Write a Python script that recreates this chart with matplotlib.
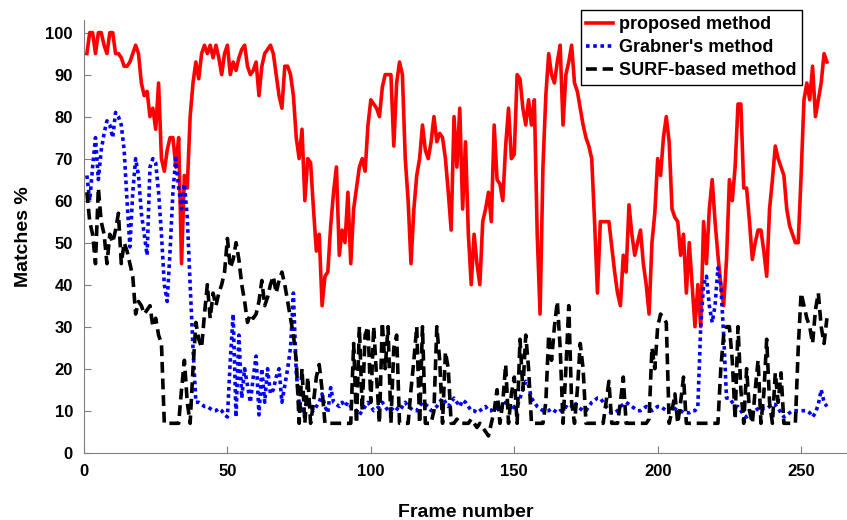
import numpy as np
import matplotlib
matplotlib.use("Agg")
import matplotlib.pyplot as plt

plt.rcParams['font.family'] = ['Liberation Sans Narrow', 'Liberation Sans', 'DejaVu Sans']
plt.rcParams['font.weight'] = 'bold'

# frame numbers
frames = np.arange(1, 260)

# proposed method
proposed = [
    95, 100, 100, 95, 100, 100, 97, 95, 100, 100, 95, 95, 94, 92, 92, 93, 95, 97, 95, 88,
    85, 86, 80, 82, 77, 88, 70, 67, 72, 75, 75, 68, 75, 45, 66, 63, 80, 88, 93, 89,
    95, 97, 95, 97, 94, 97, 94, 90, 95, 97, 90, 93, 91, 94, 96, 97, 92, 90, 91, 93,
    85, 92, 95, 96, 97, 95, 90, 85, 82, 92, 92, 90, 85, 75, 70, 77, 60, 70, 69, 58,
    48, 52, 35, 42, 43, 54, 62, 68, 47, 53, 50, 62, 45, 58, 63, 68, 70, 67, 78, 84,
    83, 82, 80, 87, 90, 90, 90, 73, 88, 93, 90, 70, 60, 45, 58, 66, 70, 78, 72, 70,
    74, 80, 74, 76, 75, 70, 62, 53, 80, 68, 82, 58, 74, 52, 40, 52, 45, 40, 55, 58,
    62, 55, 78, 65, 64, 60, 73, 82, 70, 71, 90, 89, 82, 78, 84, 78, 84, 52, 33, 68,
    85, 95, 90, 88, 93, 97, 78, 90, 93, 97, 88, 86, 82, 78, 75, 73, 70, 55, 38, 55,
    55, 55, 55, 49, 43, 38, 35, 47, 43, 59, 52, 47, 50, 53, 45, 40, 33, 50, 57, 70,
    66, 75, 80, 74, 58, 56, 55, 47, 52, 38, 50, 40, 30, 40, 30, 55, 45, 58, 65, 55,
    47, 40, 35, 46, 65, 60, 68, 83, 83, 63, 63, 55, 46, 50, 53, 53, 48, 42, 58, 65,
    73, 70, 68, 66, 58, 54, 52, 50, 50, 66, 84, 88, 84, 92, 80, 84, 88, 95, 93,
]

# Grabner's method
grabner = [
    66, 60, 68, 75, 65, 72, 76, 79, 78, 75, 81, 80, 78, 72, 60, 49, 62, 70, 66, 57,
    52, 47, 68, 70, 69, 62, 52, 40, 36, 48, 62, 70, 63, 58, 64, 56, 40, 25, 12, 12,
    11.5, 11, 11, 10.5, 10, 10, 10.5, 10, 9, 8.5, 22, 33, 8.5, 28, 13, 20, 16, 12, 18, 23,
    9, 20, 12, 20, 14, 15, 18, 20, 12, 16, 20, 25, 38, 19, 12, 9.5, 11, 12.5, 11, 10,
    11, 12, 14, 11, 9.5, 15.5, 12, 11.5, 11, 12, 11, 12, 11, 10.5, 10, 9, 10, 11, 12, 11,
    10, 10.5, 11, 12, 11, 10, 10, 11, 10.5, 10, 11, 12, 11, 10.5, 10, 10, 11, 12, 11.5, 11,
    10, 10.5, 11, 12, 13, 12, 11, 12, 13, 12, 11, 12.5, 12, 11, 10, 10, 9.5, 10, 10.5, 11,
    10, 10, 11, 10.5, 10, 11, 12, 11, 10, 11, 11, 13, 15, 17, 16, 13, 12, 11, 10.5, 10,
    10, 10, 10.5, 10, 9.5, 10, 10, 11, 10.5, 11, 12, 11, 10.5, 10, 10, 11, 12, 12.5, 13, 13,
    12, 11, 10, 9.5, 9.5, 10, 11, 11.5, 12, 11.5, 11, 10.5, 10, 10, 10.5, 11, 10.5, 10, 10.5, 11,
    11, 10.5, 10, 10.5, 11, 10.5, 10, 10, 9.5, 9.5, 9.5, 10, 10, 11, 30, 40, 42, 35, 31, 35,
    44, 40, 28, 13, 13, 12, 11, 11, 10, 9, 8.5, 9, 10, 10, 10.5, 11, 10.5, 10.5, 11, 11.5,
    11.5, 10.5, 9.5, 8.5, 9, 9.5, 10, 10, 10, 10, 10, 10, 9.5, 8.5, 9.5, 11.5, 15, 12, 11,
]

# SURF-based method
surf = [
    62, 55, 52, 45, 63, 55, 52, 45, 52, 50, 53, 57, 45, 50, 48, 45, 42, 33, 36, 35,
    33, 34, 35, 30, 32, 28, 26, 7, 7, 7, 7, 7, 7, 15, 22, 12, 7, 20, 31, 27,
    25, 33, 40, 32, 38, 35, 38, 40, 43, 51, 44, 46, 50, 46, 40, 36, 31, 33, 32, 33,
    36, 41, 35, 37, 40, 42, 38, 41, 43, 40, 36, 32, 28, 22, 7, 20, 7, 18, 7, 12,
    18, 21, 15, 7, 7, 7, 7, 7, 7, 7, 7, 7, 7, 26, 7, 30, 10, 28, 30, 12,
    30, 18, 7, 31, 20, 30, 7, 25, 28, 7, 7, 7, 7, 15, 22, 30, 7, 30, 7, 7,
    7, 10, 30, 22, 7, 24, 20, 7, 7, 8, 7, 7, 7, 7, 8, 7, 6, 7, 6, 5,
    4, 7, 10, 15, 7, 12, 21, 7, 14, 18, 7, 27, 15, 28, 20, 7, 7, 7, 7, 7,
    12, 28, 22, 30, 36, 25, 7, 20, 35, 12, 7, 15, 26, 20, 7, 7, 7, 7, 7, 7,
    7, 12, 17, 7, 7, 7, 12, 18, 7, 7, 7, 7, 7, 7, 7, 7, 8, 25, 20, 30,
    33, 32, 31, 7, 10, 14, 7, 12, 18, 7, 7, 7, 7, 7, 7, 7, 7, 7, 7, 7,
    7, 20, 28, 30, 30, 22, 8, 30, 15, 7, 20, 10, 7, 15, 22, 7, 14, 27, 12, 7,
    19, 12, 19, 7, 7, 7, 7, 7, 25, 38, 35, 32, 30, 26, 34, 38, 30, 26, 32,
]

x_ticks = [0, 50, 100, 150, 200, 250]
y_ticks = list(range(0, 101, 10))

fig = plt.figure(figsize=(8.47, 5.2), dpi=100)
ax = fig.add_axes([84 / 847, 1 - 452.7 / 520, 1 - 84 / 847, (452.7 - 20) / 520])

ax.plot(frames, proposed, color='#ff0000', lw=2.6, ls='-', label='proposed method')
ax.plot(frames, grabner, color='#0000ff', lw=2.6, ls=(0, (1, 1)), label="Grabner's method")
ax.plot(frames, surf, color='#000000', lw=2.6, ls=(0, (3, 1.6)), label='SURF-based method')

ax.set_xlim(0, 266)
ax.set_ylim(0, 103)
ax.set_xticks(x_ticks)
ax.set_yticks(y_ticks)
ax.tick_params(direction='in', color='#808080', labelsize=12, length=5, pad=8)
ax.spines['top'].set_visible(False)
ax.spines['right'].set_visible(False)
ax.spines['left'].set_color('#808080')
ax.spines['bottom'].set_color('#808080')

ax.set_xlabel('Frame number', fontsize=14, fontweight='bold', labelpad=18)
ax.set_ylabel('Matches %', fontsize=14, fontweight='bold', labelpad=10)

leg = ax.legend(loc='upper right', bbox_to_anchor=(802 / 847, 1 - 10.5 / 520),
                bbox_transform=fig.transFigure, fancybox=False, framealpha=1,
                edgecolor='black', handlelength=1.5, borderpad=0.3, labelspacing=0.34,
                handletextpad=0.33, borderaxespad=0,
                prop={'family': ['Liberation Sans', 'DejaVu Sans'], 'weight': 'bold', 'size': 13})
leg.get_frame().set_linewidth(1.0)

fig.savefig('out.png', dpi=100)
